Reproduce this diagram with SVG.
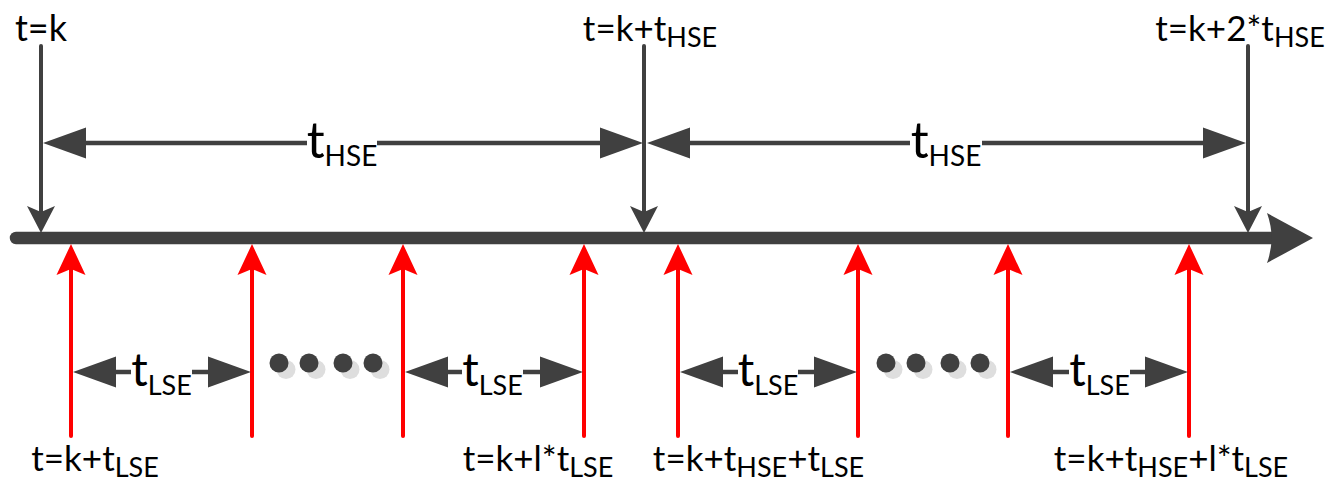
<svg xmlns="http://www.w3.org/2000/svg" width="1332" height="484" viewBox="0 0 1332 484">
  <style>
    .lbl { font-family: Lato, "Open Sans", sans-serif; fill: #000; }
    .dark { stroke: #404040; stroke-width: 4; fill: none; stroke-linecap: round; }
    .red { stroke: #FF0000; stroke-width: 4; fill: none; stroke-linecap: round; }
    .dim { stroke: #404040; stroke-width: 4.5; fill: none; }
    .headDark { fill: #404040; }
    .headRed { fill: #FF0000; }
    .dot { fill: #404040; }
    .shadow { fill: #DEDEDE; }
  </style>
  <defs>
    <!-- notched head, tip at origin, pointing down -->
    <path id="hDown" d="M0,0 L-14,-27 L0,-21 L14,-27 Z"/>
    <!-- notched head, tip at origin, pointing up -->
    <path id="hUp" d="M0,0 L-14.5,31 L0,25 L14.5,31 Z"/>
    <!-- flat dimension heads, tip at origin -->
    <path id="tL" d="M0,0 L43,-15.5 L43,15.5 Z"/>
    <path id="tR" d="M0,0 L-43,-15.5 L-43,15.5 Z"/>
    <g id="dots">
      <circle class="shadow" cx="7" cy="6.5" r="9.5"/>
      <circle class="dot" cx="0" cy="0" r="9.5"/>
      <circle class="shadow" cx="37" cy="6.5" r="9.5"/>
      <circle class="dot" cx="30" cy="0" r="9.5"/>
      <circle class="shadow" cx="71" cy="6.5" r="9.5"/>
      <circle class="dot" cx="64" cy="0" r="9.5"/>
      <circle class="shadow" cx="101" cy="6.5" r="9.5"/>
      <circle class="dot" cx="94" cy="0" r="9.5"/>
    </g>
  </defs>

  <!-- time axis -->
  <g id="axis">
    <line x1="16" y1="238" x2="1272" y2="238" stroke="#404040" stroke-width="12.5" stroke-linecap="round"/>
    <path d="M1313,238 L1267,213 Q1276,238 1267,263 Z" fill="#404040"/>
  </g>

  <g id="connectors">
    <!-- HSE instants (black, from above) -->
    <g id="hse-marks">
      <line class="dark" x1="41" y1="46" x2="41" y2="215"/>
      <use href="#hDown" x="41" y="233" class="headDark"/>
      <line class="dark" x1="644" y1="46" x2="644" y2="215"/>
      <use href="#hDown" x="644" y="233" class="headDark"/>
      <line class="dark" x1="1248" y1="46" x2="1248" y2="215"/>
      <use href="#hDown" x="1248" y="233" class="headDark"/>
    </g>

    <!-- LSE instants (red, from below) -->
    <g id="lse-marks">
      <line class="red" x1="71" y1="268" x2="71" y2="436"/>
      <use href="#hUp" x="71" y="244" class="headRed"/>
      <line class="red" x1="252" y1="268" x2="252" y2="436"/>
      <use href="#hUp" x="252" y="244" class="headRed"/>
      <line class="red" x1="403" y1="268" x2="403" y2="436"/>
      <use href="#hUp" x="403" y="244" class="headRed"/>
      <line class="red" x1="584" y1="268" x2="584" y2="436"/>
      <use href="#hUp" x="584" y="244" class="headRed"/>
      <line class="red" x1="678" y1="268" x2="678" y2="436"/>
      <use href="#hUp" x="678" y="244" class="headRed"/>
      <line class="red" x1="858" y1="268" x2="858" y2="436"/>
      <use href="#hUp" x="858" y="244" class="headRed"/>
      <line class="red" x1="1008" y1="268" x2="1008" y2="436"/>
      <use href="#hUp" x="1008" y="244" class="headRed"/>
      <line class="red" x1="1189" y1="268" x2="1189" y2="436"/>
      <use href="#hUp" x="1189" y="244" class="headRed"/>
    </g>

    <!-- HSE period dimensions -->
    <g id="hse-dims">
      <line class="dim" x1="84" y1="143" x2="307" y2="143" stroke-width="4"/>
      <line class="dim" x1="377" y1="143" x2="601" y2="143" stroke-width="4"/>
      <use href="#tL" x="43" y="143" class="headDark"/>
      <use href="#tR" x="643" y="143" class="headDark"/>
      <line class="dim" x1="689" y1="143" x2="910" y2="143" stroke-width="4"/>
      <line class="dim" x1="982" y1="143" x2="1205" y2="143" stroke-width="4"/>
      <use href="#tL" x="647" y="143" class="headDark"/>
      <use href="#tR" x="1246" y="143" class="headDark"/>
    </g>

    <!-- LSE period dimensions -->
    <g id="lse-dims">
      <use href="#tL" x="73" y="372" class="headDark"/>
      <line class="dim" x1="114" y1="372" x2="131" y2="372"/>
      <line class="dim" x1="192" y1="372" x2="210" y2="372"/>
      <use href="#tR" x="251" y="372" class="headDark"/>

      <use href="#tL" x="405" y="372" class="headDark"/>
      <line class="dim" x1="446" y1="372" x2="462" y2="372"/>
      <line class="dim" x1="523" y1="372" x2="542" y2="372"/>
      <use href="#tR" x="583" y="372" class="headDark"/>

      <use href="#tL" x="680" y="372" class="headDark"/>
      <line class="dim" x1="721" y1="372" x2="738" y2="372"/>
      <line class="dim" x1="798" y1="372" x2="816" y2="372"/>
      <use href="#tR" x="857" y="372" class="headDark"/>

      <use href="#tL" x="1010" y="372" class="headDark"/>
      <line class="dim" x1="1051" y1="372" x2="1069" y2="372"/>
      <line class="dim" x1="1130" y1="372" x2="1147" y2="372"/>
      <use href="#tR" x="1188" y="372" class="headDark"/>
    </g>
  </g>

  <!-- ellipsis dots -->
  <g id="ellipsis-1"><use href="#dots" x="279" y="363"/></g>
  <g id="ellipsis-2"><use href="#dots" x="886" y="363"/></g>

  <!-- top instant labels -->
  <g id="label-k">
    <text class="lbl" x="41" y="41" font-size="36" text-anchor="middle">t=k</text>
  </g>
  <g id="label-k-hse">
    <text class="lbl" x="650" y="41" font-size="35" text-anchor="middle">t=k+t<tspan font-size="27" dy="6">HSE</tspan></text>
  </g>
  <g id="label-k-2hse">
    <text class="lbl" x="1240" y="41" font-size="35" text-anchor="middle">t=k+2*t<tspan font-size="27" dy="6">HSE</tspan></text>
  </g>

  <!-- period labels -->
  <g id="label-hse-1">
    <text class="lbl" x="342" y="158" font-size="50" text-anchor="middle">t<tspan font-size="28" dy="8">HSE</tspan></text>
  </g>
  <g id="label-hse-2">
    <text class="lbl" x="946" y="158" font-size="50" text-anchor="middle">t<tspan font-size="28" dy="8">HSE</tspan></text>
  </g>
  <g id="label-lse-1">
    <text class="lbl" x="161.5" y="386" font-size="46" text-anchor="middle">t<tspan font-size="27" dy="9">LSE</tspan></text>
  </g>
  <g id="label-lse-2">
    <text class="lbl" x="492.5" y="386" font-size="46" text-anchor="middle">t<tspan font-size="27" dy="9">LSE</tspan></text>
  </g>
  <g id="label-lse-3">
    <text class="lbl" x="768" y="386" font-size="46" text-anchor="middle">t<tspan font-size="27" dy="9">LSE</tspan></text>
  </g>
  <g id="label-lse-4">
    <text class="lbl" x="1099.5" y="386" font-size="46" text-anchor="middle">t<tspan font-size="27" dy="9">LSE</tspan></text>
  </g>

  <!-- bottom instant labels -->
  <g id="label-k-lse">
    <text class="lbl" x="95" y="471" font-size="35" text-anchor="middle">t=k+t<tspan font-size="27" dy="6">LSE</tspan></text>
  </g>
  <g id="label-k-l-lse">
    <text class="lbl" x="538" y="471" font-size="35" text-anchor="middle">t=k+l*t<tspan font-size="27" dy="6">LSE</tspan></text>
  </g>
  <g id="label-k-hse-lse">
    <text class="lbl" x="758.5" y="471" font-size="35" text-anchor="middle">t=k+t<tspan font-size="27" dy="6">HSE</tspan><tspan dy="-6">+t</tspan><tspan font-size="27" dy="6">LSE</tspan></text>
  </g>
  <g id="label-k-hse-l-lse">
    <text class="lbl" x="1171" y="471" font-size="35" text-anchor="middle">t=k+t<tspan font-size="27" dy="6">HSE</tspan><tspan dy="-6">+l*t</tspan><tspan font-size="27" dy="6">LSE</tspan></text>
  </g>
</svg>
